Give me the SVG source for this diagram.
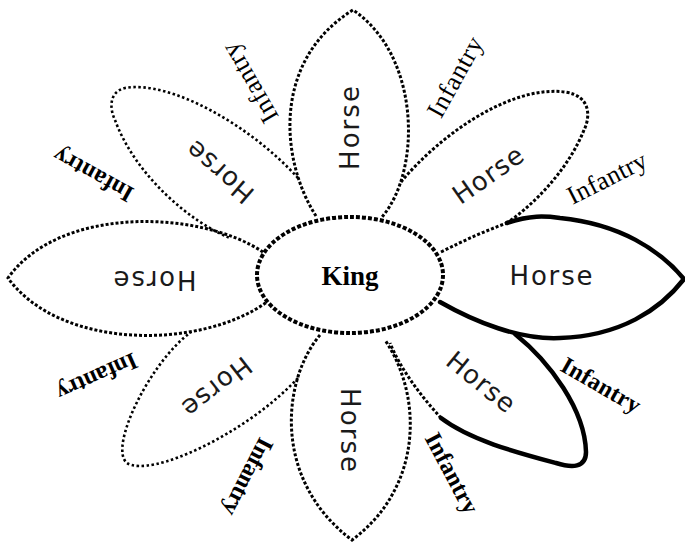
<svg xmlns="http://www.w3.org/2000/svg" width="685" height="543" viewBox="0 0 685 543">
<style>
.dot{fill:none;stroke:#000;stroke-width:3;stroke-dasharray:3 2;stroke-linecap:butt}
.dotl{fill:none;stroke:#000;stroke-width:2.6;stroke-dasharray:2.5 2.5}
.solid{fill:none;stroke:#000;stroke-width:4.5;stroke-linecap:round;stroke-linejoin:round}
.king{fill:none;stroke:#000;stroke-width:4;stroke-dasharray:4 2}
.horse{font-family:"DejaVu Sans","Liberation Sans",sans-serif;font-size:26px;fill:#1a1a1a;text-anchor:middle;dominant-baseline:central}
.inf{font-family:"Liberation Serif","Times New Roman",serif;font-size:24px;font-weight:bold;fill:#000;text-anchor:middle;dominant-baseline:central}
.infr{font-weight:normal;font-size:26px}
.kingt{font-family:"Liberation Serif","Times New Roman",serif;font-size:27px;font-weight:bold;fill:#000;text-anchor:middle}
</style>
<rect width="685" height="543" fill="#fff"/>
<g id="petal-top">
<path class="dot" d="M316,216 C280,160 272,60 353,10 C420,55 422,170 382,217"/>
<text class="horse" transform="translate(350,128) rotate(-90)" textLength="84" lengthAdjust="spacing">Horse</text>
</g>
<g id="petal-upper-right">
<path class="dot" d="M401,182 C440,135 510,85 565,92 C592,96 590,118 584,130 C570,165 540,200 507,223"/>
<path class="dot" d="M441,252 C465,240 485,231 507,223"/>
<text class="horse" transform="translate(488,175) rotate(-35)" textLength="80" lengthAdjust="spacing">Horse</text>
</g>
<g id="petal-right">
<path class="solid" d="M507,223 C530,215 545,216 560,218 C620,224 660,250 684,279 C660,310 620,336 560,338 C520,340 475,322 440,302"/>
<text class="horse" x="551" y="276" textLength="83" lengthAdjust="spacing">Horse</text>
</g>
<g id="petal-lower-right">
<path class="solid" d="M515,334 C550,362 585,410 586,452 C586,468 572,468 556,463 C515,452 470,440 441,418"/>
<path class="dot" d="M441,418 C420,395 400,368 390,343"/>
<text class="horse" transform="translate(481,382) rotate(39)" textLength="80" lengthAdjust="spacing">Horse</text>
</g>
<g id="petal-bottom">
<path class="dot" d="M320,335 C282,380 272,480 352,540 C420,490 425,400 385,340"/>
<text class="horse" transform="translate(350,430) rotate(90)" textLength="84" lengthAdjust="spacing">Horse</text>
</g>
<g id="petal-lower-left">
<path class="dotl" d="M298,378 C245,435 150,478 127,463 C108,448 150,362 191,332"/>
<text class="horse" transform="translate(217,387) rotate(142)" textLength="80" lengthAdjust="spacing">Horse</text>
</g>
<g id="petal-left">
<path class="dot" d="M263,252 C200,210 60,205 8,278 C60,350 200,350 267,302"/>
<text class="horse" transform="translate(155,280) rotate(180)" textLength="83" lengthAdjust="spacing">Horse</text>
</g>
<g id="petal-upper-left">
<path class="dotl" d="M298,178 C250,125 170,80 125,88 C108,92 110,110 115,120 C135,175 190,222 230,238"/>
<text class="horse" transform="translate(220,172) rotate(-139)" textLength="80" lengthAdjust="spacing">Horse</text>
</g>
<g id="king">
<ellipse class="king" cx="350" cy="275" rx="93" ry="58"/>
<text class="kingt" x="350" y="285">King</text>
</g>
<g id="infantry-labels">
<text class="inf infr" transform="translate(250,83) rotate(-120)" textLength="88" lengthAdjust="spacing">Infantry</text>
<text class="inf infr" transform="translate(455,77) rotate(-61)" textLength="88" lengthAdjust="spacing">Infantry</text>
<text class="inf infr" transform="translate(607,178) rotate(-27)" textLength="86" lengthAdjust="spacing">Infantry</text>
<text class="inf" transform="translate(601,385) rotate(30)" textLength="88" lengthAdjust="spacing">Infantry</text>
<text class="inf" transform="translate(452,473) rotate(62)" textLength="88" lengthAdjust="spacing">Infantry</text>
<text class="inf" transform="translate(248,477) rotate(117)" textLength="84" lengthAdjust="spacing">Infantry</text>
<text class="inf" transform="translate(97,377) rotate(156)" textLength="86" lengthAdjust="spacing">Infantry</text>
<text class="inf" transform="translate(93,175) rotate(-151)" textLength="88" lengthAdjust="spacing">Infantry</text>
</g>
</svg>
